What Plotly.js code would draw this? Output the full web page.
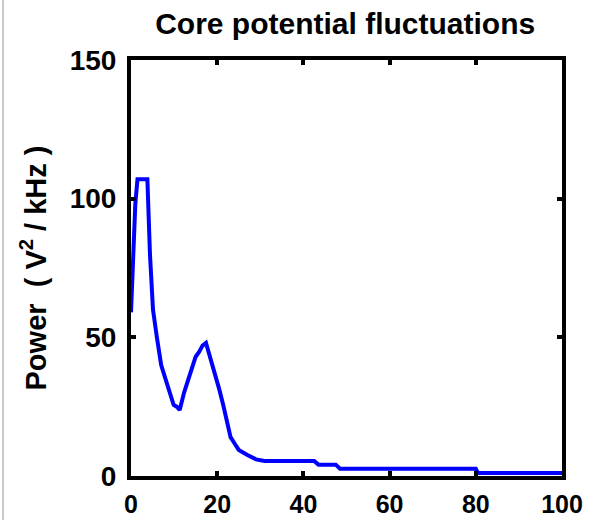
<!DOCTYPE html>
<html>
<head>
<meta charset="utf-8">
<script src="https://cdn.plot.ly/plotly-3.0.1.min.js"></script>
<style>html,body{margin:0;padding:0;background:#fff;}#chart{width:589px;height:520px;}</style>
</head>
<body>
<div id="chart"></div>
<script>
// Frequency (kHz)
const freq = [0, 0.5, 1, 1.5, 3.8, 4.4, 5.1, 6, 7, 8, 9, 9.9, 10.6, 11.3, 12.3, 13.2, 14.2, 15, 15.8, 16.6, 17.4, 18.4, 19.4, 20.4, 21.4, 22.3, 23.1, 24, 25, 27, 29, 31, 42.5, 43.5, 47.5, 48.5, 80, 80.5, 100];
// Power (V^2/kHz)
const power = [59, 77, 98, 107, 107, 80, 60, 50, 40, 35, 29.5, 25.6, 25, 23.8, 30, 34.6, 39, 43, 44.7, 47, 48, 42.5, 38, 31.7, 25.6, 19.5, 14, 11.8, 9.4, 7.6, 6, 5.4, 5.4, 4.1, 4.1, 2.6, 2.6, 1.1, 1.1];
const xTicks = [0, 20, 40, 60, 80, 100];
const yTicks = [0, 50, 100, 150];

const fontFam = 'Liberation Sans, Arial, sans-serif';

const trace = {
  x: freq, y: power, type: 'scatter', mode: 'lines',
  line: {color: '#0000ff', width: 4},
  hoverinfo: 'skip'
};

const axisCommon = {
  showgrid: false, zeroline: false, showline: true, mirror: 'ticks',
  linecolor: '#000', linewidth: 4, ticks: 'inside', ticklen: 5, tickwidth: 4,
  tickcolor: '#000'
};

const layout = {
  width: 589, height: 520,
  margin: {l: 131, r: 27, t: 60, b: 44, pad: 0},
  paper_bgcolor: '#fff', plot_bgcolor: '#fff',
  showlegend: false,
  title: {text: 'Core potential fluctuations', font: {family: fontFam, size: 30, color: '#000', weight: 'bold'}, x: 0.586, xanchor: 'center', y: 0.955, yanchor: 'middle'},
  xaxis: Object.assign({}, axisCommon, {range: [0, 100], tickvals: xTicks, ticktext: xTicks.map(String), ticklabelstandoff: 3,
    tickfont: {family: fontFam, size: 25, color: '#000', weight: 'bold'}}),
  yaxis: Object.assign({}, axisCommon, {range: [0, 150], tickvals: yTicks, ticktext: yTicks.map(String), ticklabelstandoff: 5,
    tickfont: {family: fontFam, size: 28, color: '#000', weight: 'bold'},
    title: {text: 'Power  ( V<sup>2</sup> / kHz )', font: {family: fontFam, size: 29, color: '#000', weight: 'bold'}, standoff: 16}}),
  shapes: [{type: 'line', xref: 'paper', yref: 'paper', x0: -0.297, x1: -0.297, y0: -0.11, y1: 1.15, line: {color: '#c8c8c8', width: 2}}]
};

Plotly.newPlot('chart', [trace], layout, {displayModeBar: false, staticPlot: true});
</script>
</body>
</html>
